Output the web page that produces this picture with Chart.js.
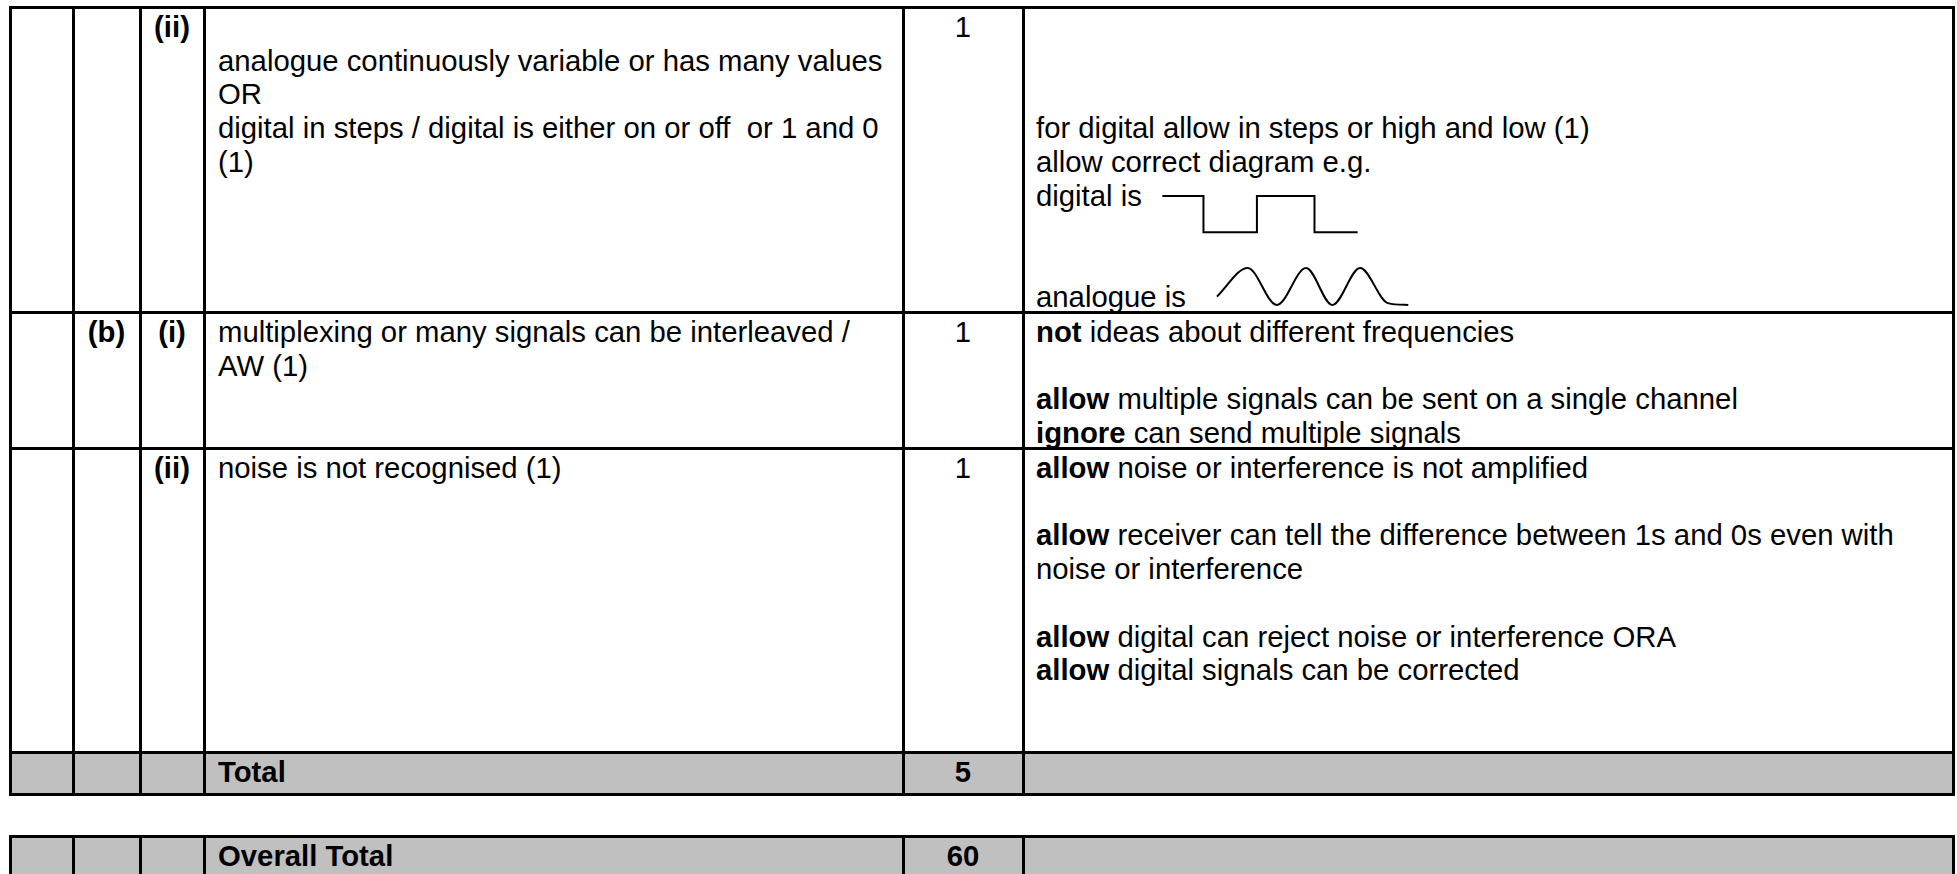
<!DOCTYPE html>
<html>
<head>
<meta charset="utf-8">
<script src="https://cdn.jsdelivr.net/npm/chart.js@4.4.1/dist/chart.umd.min.js"></script>
<style>
  html, body { margin: 0; padding: 0; background: #fff; }
  #page { position: relative; width: 1957px; height: 874px; overflow: hidden; background: #fff;
          font-family: "Liberation Sans", Arial, sans-serif; font-size: 29.3px; line-height: 33.7px; color: #000; }
  .ln { position: absolute; background: #000; }
  .grey { position: absolute; background: #c0c0c0; }
  .t { position: absolute; white-space: nowrap; }
  .c { text-align: center; }
  .b { font-weight: bold; }
  canvas { position: absolute; }
</style>
</head>
<body>
<div id="page">
  <div class="grey" style="left:10px;top:752px;width:1943px;height:42px"></div>
  <div class="grey" style="left:10px;top:836px;width:1943px;height:40px"></div>

  <!-- row (ii) -->
  <div class="t b c" style="left:140px;width:64px;top:10px">(ii)</div>
  <div class="t" style="left:218px;top:10px"><br>analogue continuously variable or has many values<br>OR<br>digital in steps / digital is either on or off&nbsp; or 1 and 0<br>(1)</div>
  <div class="t c" style="left:903px;width:120px;top:10px">1</div>
  <div class="t" style="left:1036px;top:10px"><br><br><br>for digital allow in steps or high and low (1)<br>allow correct diagram e.g.<br>digital is<br><br><br>analogue is</div>

  <!-- row (b)(i) -->
  <div class="t b c" style="left:73px;width:67px;top:315px">(b)</div>
  <div class="t b c" style="left:140px;width:64px;top:315px">(i)</div>
  <div class="t" style="left:218px;top:315px">multiplexing or many signals can be interleaved /<br>AW (1)</div>
  <div class="t c" style="left:903px;width:120px;top:315px">1</div>
  <div class="t" style="left:1036px;top:315px"><b>not</b> ideas about different frequencies<br><br><b>allow</b> multiple signals can be sent on a single channel<br><b>ignore</b> can send multiple signals</div>

  <!-- row (ii) -->
  <div class="t b c" style="left:140px;width:64px;top:451px">(ii)</div>
  <div class="t" style="left:218px;top:451px">noise is not recognised (1)</div>
  <div class="t c" style="left:903px;width:120px;top:451px">1</div>
  <div class="t" style="left:1036px;top:451px"><b>allow</b> noise or interference is not amplified<br><br><b>allow</b> receiver can tell the difference between 1s and 0s even with<br>noise or interference<br><br><b>allow</b> digital can reject noise or interference ORA<br><b>allow</b> digital signals can be corrected</div>

  <!-- totals -->
  <div class="t b" style="left:218px;top:755px">Total</div>
  <div class="t b c" style="left:903px;width:120px;top:755px">5</div>
  <div class="t b" style="left:218px;top:839px">Overall Total</div>
  <div class="t b c" style="left:903px;width:120px;top:839px">60</div>

  <canvas id="digitalChart" width="220" height="70" style="left:1150px;top:180px"></canvas>
  <canvas id="analogueChart" width="220" height="56" style="left:1200px;top:258px"></canvas>
</div>

<script>
// valeurs : temps (unités arbitraires) et niveau du signal
const digitalTime = [0, 1, 1, 2.3, 2.3, 3.7, 3.7, 4.75];
const digitalLevel = [1, 1, 0, 0, 1, 1, 0, 0];

const analogueTime = [0, 1.05, 2.05, 3.05, 3.95, 4.9, 5.85, 6.55];
const analogueLevel = [-0.55, 1, -1, 1, -1, 1, -0.9, -1];

// traits du tableau
const page = document.getElementById("page");
const colX = [10, 73, 140, 204, 903, 1023, 1953];
const rowY = [7, 312, 448, 752, 794];
function addLine(x, y, w, h) {
    const d = document.createElement("div");
    d.className = "ln";
    d.style.cssText = `left:${x}px;top:${y}px;width:${w}px;height:${h}px`;
    page.appendChild(d);
}
colX.forEach(x => {
    addLine(x - 1, rowY[0] - 1, 3, rowY[rowY.length - 1] - rowY[0] + 3);
    addLine(x - 1, 835, 3, 45);
});
rowY.forEach(y => addLine(colX[0] - 1, y - 1, colX[colX.length - 1] - colX[0] + 3, 3));
addLine(colX[0] - 1, 835, colX[colX.length - 1] - colX[0] + 3, 3);

function toPoints(xs, ys) {
    return xs.map((x, i) => ({ x: x, y: ys[i] }));
}

function waveChart(id, points, xRange, yRange, smooth) {
    const ctx = document.getElementById(id).getContext("2d");
    return new Chart(ctx, {
        type: "line",
        data: {
            datasets: [{
                data: points,
                borderColor: "#000",
                borderWidth: 2,
                pointRadius: 0,
                fill: false,
                tension: 0,
                cubicInterpolationMode: smooth ? "monotone" : "default"
            }]
        },
        options: {
            responsive: false,
            animation: false,
            layout: { padding: 0 },
            plugins: { legend: { display: false }, tooltip: { enabled: false } },
            scales: {
                x: { type: "linear", display: false, min: xRange[0], max: xRange[1] },
                y: { type: "linear", display: false, min: yRange[0], max: yRange[1] }
            }
        }
    });
}

waveChart("digitalChart", toPoints(digitalTime, digitalLevel), [-0.3, 5.05], [-0.49, 1.44], false);
waveChart("analogueChart", toPoints(analogueTime, analogueLevel), [-0.58, 6.95], [-1.49, 1.54], true);
</script>
</body>
</html>
